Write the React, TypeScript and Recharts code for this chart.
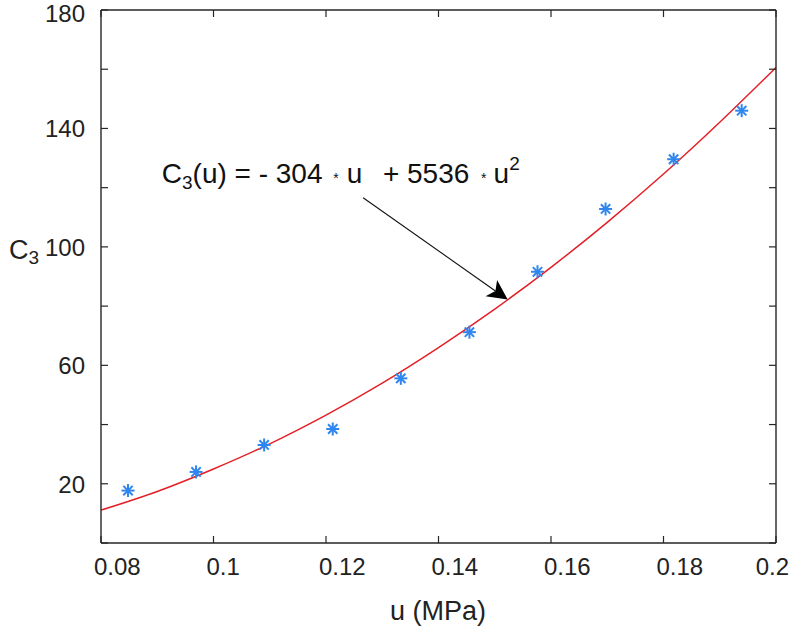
import React from 'react';
import {
  ComposedChart, Line, Scatter, XAxis, YAxis, ReferenceLine, ReferenceDot,
} from 'recharts';

// measured points
const uPoints = [0.0848, 0.0969, 0.109, 0.1212, 0.1333, 0.1455, 0.1576, 0.1697, 0.1818, 0.1939];
const c3Points = [17.7, 24.0, 33.1, 38.5, 55.6, 71.2, 91.6, 112.8, 129.6, 146.0];

// fitted curve
const curveU = [0.08, 0.09, 0.1, 0.11, 0.12, 0.13, 0.14, 0.15, 0.16, 0.17, 0.18, 0.19, 0.2];
const curveC3 = [11.1, 17.4, 25.0, 33.5, 43.2, 54.0, 66.0, 79.0, 93.1, 108.3, 124.6, 142.1, 160.6];

const xTicks = [0.08, 0.1, 0.12, 0.14, 0.16, 0.18, 0.2];
const yTicks = [0, 20, 40, 60, 80, 100, 120, 140, 160, 180];
const yLabelled = [20, 60, 100, 140, 180];

const points = uPoints.map((u, i) => ({ u, c3: c3Points[i] }));
const curve = curveU.map((u, i) => ({ u, fit: curveC3[i] }));

const FONT = '"Liberation Sans", Arial, Helvetica, sans-serif';
const AXIS = '#262626';
const TICK = 7;

const Star = (props: any) => {
  const { cx, cy } = props;
  const r = 6.5;
  const d = r * 0.72;
  return (
    <g stroke="#2f86ee" strokeWidth={2}>
      <line x1={cx - r} y1={cy} x2={cx + r} y2={cy} />
      <line x1={cx} y1={cy - r} x2={cx} y2={cy + r} />
      <line x1={cx - d} y1={cy - d} x2={cx + d} y2={cy + d} />
      <line x1={cx - d} y1={cy + d} x2={cx + d} y2={cy - d} />
    </g>
  );
};

const BottomTick = (props: any) => {
  const { x, y, payload, index } = props;
  const last = index === xTicks.length - 1;
  return (
    <g>
      <line x1={x} y1={y} x2={x} y2={y - TICK} stroke={AXIS} strokeWidth={1.2} />
      <text
        x={last ? x + 13 : x - 7}
        y={y + 32}
        textAnchor={last ? 'end' : 'start'}
        fontSize={24}
        fontFamily={FONT}
        fill="#222"
      >
        {payload.value}
      </text>
    </g>
  );
};

const TopTick = (props: any) => {
  const { x, y } = props;
  return <line x1={x} y1={y} x2={x} y2={y + TICK} stroke={AXIS} strokeWidth={1.2} />;
};

const LeftTick = (props: any) => {
  const { x, y, payload } = props;
  const ty = Math.max(y + 9, 22);
  return (
    <g>
      <line x1={x} y1={y} x2={x + TICK} y2={y} stroke={AXIS} strokeWidth={1.2} />
      {yLabelled.includes(payload.value) && (
        <text x={x - 16} y={ty} textAnchor="end" fontSize={24} fontFamily={FONT} fill="#222">
          {payload.value}
        </text>
      )}
    </g>
  );
};

const RightTick = (props: any) => {
  const { x, y } = props;
  return <line x1={x} y1={y} x2={x - TICK} y2={y} stroke={AXIS} strokeWidth={1.2} />;
};

const Arrow = (props: any) => {
  const { x1, y1, x2, y2 } = props;
  const len = Math.hypot(x2 - x1, y2 - y1);
  const dx = (x2 - x1) / len;
  const dy = (y2 - y1) / len;
  const nx = -dy;
  const ny = dx;
  const L = 20;
  const W = 10;
  const notch = 15;
  const bx = x2 - dx * L;
  const by = y2 - dy * L;
  const pts = [
    [x2, y2],
    [bx + nx * W, by + ny * W],
    [x2 - dx * notch, y2 - dy * notch],
    [bx - nx * W, by - ny * W],
  ].map((p) => p.join(',')).join(' ');
  return (
    <g>
      <line x1={x1} y1={y1} x2={x2 - dx * notch} y2={y2 - dy * notch} stroke="#111" strokeWidth={1.1} />
      <polygon points={pts} fill="#000" />
    </g>
  );
};

const Equation = (props: any) => {
  const { cx, cy } = props;
  return (
    <text x={cx} y={cy} fontSize={28} fontFamily={FONT} fill="#111" style={{ whiteSpace: 'pre' }}>
      C
      <tspan fontSize={19} dy={6}>3</tspan>
      <tspan dy={-6}>(u) = - 304 </tspan>
      <tspan fontSize={14} dx={3}>*</tspan>
      <tspan dx={8}>u</tspan>
      <tspan dx={5}>  + 5536 </tspan>
      <tspan fontSize={14} dx={4}>*</tspan>
      <tspan dx={7}>u</tspan>
      <tspan fontSize={19} dy={-13}>2</tspan>
    </text>
  );
};

export default function App() {
  return (
    <div style={{ position: 'absolute', left: 0, top: 0, width: 792, height: 631, background: '#fff' }}>
      <ComposedChart width={792} height={631} margin={{ top: 9, right: 15, bottom: 0, left: 41 }}>
        <XAxis
          xAxisId="b"
          dataKey="u"
          type="number"
          domain={[0.08, 0.2]}
          ticks={xTicks}
          allowDataOverflow
          height={88}
          tickSize={0}
          tickMargin={0}
          tickLine={false}
          axisLine={{ stroke: AXIS, strokeWidth: 1.4 }}
          tick={<BottomTick />}
          interval={0}
        />
        <XAxis
          xAxisId="t"
          orientation="top"
          dataKey="u"
          type="number"
          domain={[0.08, 0.2]}
          ticks={xTicks}
          allowDataOverflow
          height={1}
          tickSize={0}
          tickMargin={0}
          tickLine={false}
          axisLine={{ stroke: AXIS, strokeWidth: 1.4 }}
          tick={<TopTick />}
          interval={0}
        />
        <YAxis
          yAxisId="l"
          type="number"
          domain={[0, 180]}
          ticks={yTicks}
          allowDataOverflow
          width={60}
          tickSize={0}
          tickMargin={0}
          tickLine={false}
          axisLine={{ stroke: AXIS, strokeWidth: 1.4 }}
          tick={<LeftTick />}
          interval={0}
        />
        <YAxis
          yAxisId="r"
          orientation="right"
          type="number"
          domain={[0, 180]}
          ticks={yTicks}
          allowDataOverflow
          width={1}
          tickSize={0}
          tickMargin={0}
          tickLine={false}
          axisLine={{ stroke: AXIS, strokeWidth: 1.4 }}
          tick={<RightTick />}
          interval={0}
        />
        {/* invisible series so the mirrored top/right axes get drawn */}
        <Line
          xAxisId="t"
          yAxisId="r"
          data={curve}
          dataKey="fit"
          stroke="none"
          dot={false}
          activeDot={false}
          isAnimationActive={false}
        />
        <Line
          xAxisId="b"
          yAxisId="l"
          data={curve}
          dataKey="fit"
          type="monotone"
          stroke="#e41f26"
          strokeWidth={1.5}
          dot={false}
          activeDot={false}
          isAnimationActive={false}
        />
        <Scatter
          xAxisId="b"
          yAxisId="l"
          data={points}
          dataKey="c3"
          shape={<Star />}
          isAnimationActive={false}
        />
        <ReferenceLine
          xAxisId="b"
          yAxisId="l"
          segment={[{ x: 0.1266, y: 116.6 }, { x: 0.1523, y: 82.2 }]}
          shape={<Arrow />}
        />
        <ReferenceDot xAxisId="b" yAxisId="l" x={0.0908} y={121.5} r={0} shape={<Equation />} />
        <text x={9} y={259} fontSize={27} fontFamily={FONT} fill="#222">
          C<tspan fontSize={19} dy={5}>3</tspan>
        </text>
        <text x={438} y={620} textAnchor="middle" fontSize={27} fontFamily={FONT} fill="#222">
          u (MPa)
        </text>
      </ComposedChart>
    </div>
  );
}
